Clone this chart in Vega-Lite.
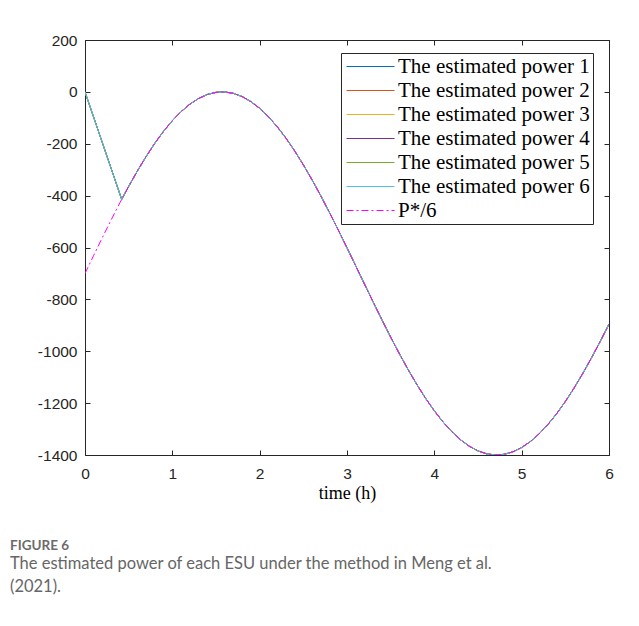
{
  "$schema": "https://vega.github.io/schema/vega-lite/v6.json",
  "width": 524,
  "height": 415,
  "autosize": {"type": "none"},
  "padding": {"left": 85, "top": 40, "right": 30, "bottom": 171},
  "background": "white",
  "title": {
    "text": "FIGURE 6",
    "subtitle": ["The estimated power of each ESU under the method in Meng et al.", "(2021)."],
    "orient": "bottom",
    "anchor": "start",
    "frame": "group",
    "dx": -75,
    "offset": 36,
    "font": "Lato",
    "fontSize": 13.5,
    "fontWeight": "bold",
    "color": "#6b6b6b",
    "subtitleFont": "Lato",
    "subtitleFontSize": 16.5,
    "subtitleColor": "#666666",
    "subtitleLineHeight": 23,
    "subtitlePadding": 4
  },
  "data": {
    "values": [
      {"t": 0, "e": 0, "r": -700},
      {"t": 0.1, "r": -630.1},
      {"t": 0.2, "r": -560.9},
      {"t": 0.3, "r": -493.1},
      {"t": 0.4, "r": -427.4},
      {"t": 0.42, "e": -414.5, "r": -414.5},
      {"t": 0.5, "e": -364.4, "r": -364.4},
      {"t": 0.6, "e": -304.8, "r": -304.8},
      {"t": 0.7, "e": -249.1, "r": -249.1},
      {"t": 0.8, "e": -197.8, "r": -197.8},
      {"t": 0.9, "e": -151.7, "r": -151.7},
      {"t": 1.0, "e": -111.0, "r": -111.0},
      {"t": 1.1, "e": -76.2, "r": -76.2},
      {"t": 1.2, "e": -47.6, "r": -47.6},
      {"t": 1.3, "e": -25.5, "r": -25.5},
      {"t": 1.4, "e": -10.2, "r": -10.2},
      {"t": 1.5, "e": -1.7, "r": -1.7},
      {"t": 1.6, "e": -0.3, "r": -0.3},
      {"t": 1.7, "e": -5.8, "r": -5.8},
      {"t": 1.8, "e": -18.3, "r": -18.3},
      {"t": 1.9, "e": -37.6, "r": -37.6},
      {"t": 2.0, "e": -63.5, "r": -63.5},
      {"t": 2.1, "e": -95.8, "r": -95.8},
      {"t": 2.2, "e": -134.0, "r": -134.0},
      {"t": 2.3, "e": -178.0, "r": -178.0},
      {"t": 2.4, "e": -227.2, "r": -227.2},
      {"t": 2.5, "e": -281.1, "r": -281.1},
      {"t": 2.6, "e": -339.1, "r": -339.1},
      {"t": 2.7, "e": -400.8, "r": -400.8},
      {"t": 2.8, "e": -465.5, "r": -465.5},
      {"t": 2.9, "e": -532.6, "r": -532.6},
      {"t": 3.0, "e": -601.2, "r": -601.2},
      {"t": 3.1, "e": -670.9, "r": -670.9},
      {"t": 3.2, "e": -740.9, "r": -740.9},
      {"t": 3.3, "e": -810.4, "r": -810.4},
      {"t": 3.4, "e": -878.8, "r": -878.8},
      {"t": 3.5, "e": -945.6, "r": -945.6},
      {"t": 3.6, "e": -1009.8, "r": -1009.8},
      {"t": 3.7, "e": -1070.9, "r": -1070.9},
      {"t": 3.8, "e": -1128.3, "r": -1128.3},
      {"t": 3.9, "e": -1181.5, "r": -1181.5},
      {"t": 4.0, "e": -1229.8, "r": -1229.8},
      {"t": 4.1, "e": -1272.8, "r": -1272.8},
      {"t": 4.2, "e": -1310.1, "r": -1310.1},
      {"t": 4.3, "e": -1341.3, "r": -1341.3},
      {"t": 4.4, "e": -1366.1, "r": -1366.1},
      {"t": 4.5, "e": -1384.3, "r": -1384.3},
      {"t": 4.6, "e": -1395.6, "r": -1395.6},
      {"t": 4.7, "e": -1400.0, "r": -1400.0},
      {"t": 4.8, "e": -1397.3, "r": -1397.3},
      {"t": 4.9, "e": -1387.8, "r": -1387.8},
      {"t": 5.0, "e": -1371.2, "r": -1371.2},
      {"t": 5.1, "e": -1348.1, "r": -1348.1},
      {"t": 5.2, "e": -1318.5, "r": -1318.5},
      {"t": 5.3, "e": -1282.6, "r": -1282.6},
      {"t": 5.4, "e": -1241.0, "r": -1241.0},
      {"t": 5.5, "e": -1193.9, "r": -1193.9},
      {"t": 5.6, "e": -1141.9, "r": -1141.9},
      {"t": 5.7, "e": -1085.5, "r": -1085.5},
      {"t": 5.8, "e": -1025.2, "r": -1025.2},
      {"t": 5.9, "e": -961.7, "r": -961.7},
      {"t": 6.0, "e": -895.6, "r": -895.6}
    ]
  },
  "resolve": {"axis": {"x": "independent", "y": "independent"}},
  "layer": [
    {
      "mark": {"type": "line", "strokeWidth": 1, "clip": true, "invalid": "filter"},
      "encoding": {
        "x": {"field": "t", "type": "quantitative", "scale": {"domain": [0, 6], "nice": false},
          "axis": {"orient": "bottom", "values": [0, 1, 2, 3, 4, 5, 6], "title": "time (h)", "titleFont": "Liberation Serif", "titleFontSize": 18, "titleFontWeight": "normal", "titleColor": "#000000", "titlePadding": 3, "labelPadding": 16}},
        "y": {"field": "e", "type": "quantitative", "scale": {"domain": [-1400, 200], "nice": false, "zero": false},
          "axis": {"orient": "left", "values": [-1400, -1200, -1000, -800, -600, -400, -200, 0, 200], "title": null, "labelExpr": "datum.value + ''"}},
        "color": {
          "datum": "The estimated power 1", "type": "nominal",
          "scale": {
            "domain": ["The estimated power 1", "The estimated power 2", "The estimated power 3", "The estimated power 4", "The estimated power 5", "The estimated power 6", "P*/6"],
            "range": ["#0072BD", "#D95319", "#EDB120", "#7E2F8E", "#77AC30", "#4DBEEE", "#FF00FF"]
          },
          "legend": {
            "title": null, "orient": "none", "legendX": 256, "legendY": 13,
            "encode": {"symbols": {"update": {"strokeDash": {"signal": "datum.value === 'P*/6' ? [7, 3, 2, 3] : [1, 0]"}}}}
          }
        }
      }
    },
    {
      "mark": {"type": "line", "strokeWidth": 1, "clip": true, "invalid": "filter"},
      "encoding": {
        "x": {"field": "t", "type": "quantitative", "axis": null},
        "y": {"field": "e", "type": "quantitative", "axis": null},
        "color": {"datum": "The estimated power 2", "type": "nominal"}
      }
    },
    {
      "mark": {"type": "line", "strokeWidth": 1, "clip": true, "invalid": "filter"},
      "encoding": {
        "x": {"field": "t", "type": "quantitative", "axis": null},
        "y": {"field": "e", "type": "quantitative", "axis": null},
        "color": {"datum": "The estimated power 3", "type": "nominal"}
      }
    },
    {
      "mark": {"type": "line", "strokeWidth": 1, "clip": true, "invalid": "filter"},
      "encoding": {
        "x": {"field": "t", "type": "quantitative", "axis": null},
        "y": {"field": "e", "type": "quantitative", "axis": null},
        "color": {"datum": "The estimated power 4", "type": "nominal"}
      }
    },
    {
      "mark": {"type": "line", "strokeWidth": 1, "clip": true, "invalid": "filter"},
      "encoding": {
        "x": {"field": "t", "type": "quantitative", "axis": null},
        "y": {"field": "e", "type": "quantitative", "axis": null},
        "color": {"datum": "The estimated power 5", "type": "nominal"}
      }
    },
    {
      "mark": {"type": "line", "strokeWidth": 1, "clip": true, "invalid": "filter"},
      "encoding": {
        "x": {"field": "t", "type": "quantitative", "axis": null},
        "y": {"field": "e", "type": "quantitative", "axis": null},
        "color": {"datum": "The estimated power 6", "type": "nominal"}
      }
    },
    {
      "mark": {"type": "line", "strokeWidth": 1, "clip": true, "strokeDash": [7, 3, 2, 3]},
      "encoding": {
        "x": {"field": "t", "type": "quantitative",
          "axis": {"orient": "top", "values": [0, 1, 2, 3, 4, 5, 6], "labels": false, "title": null}},
        "y": {"field": "r", "type": "quantitative",
          "axis": {"orient": "right", "values": [-1400, -1200, -1000, -800, -600, -400, -200, 0, 200], "labels": false, "title": null}},
        "color": {"datum": "P*/6", "type": "nominal"}
      }
    }
  ],
  "config": {
    "view": {"stroke": "#262626", "strokeWidth": 1},
    "axis": {
      "domainColor": "#262626",
      "domainWidth": 1,
      "tickColor": "#262626",
      "tickSize": -5,
      "tickWidth": 1,
      "grid": false,
      "labelFont": "Liberation Sans",
      "labelFontSize": 15.5,
      "labelColor": "#262626",
      "labelPadding": 13,
      "labelFlush": false,
      "labelOverlap": false
    },
    "legend": {
      "strokeColor": "#262626",
      "fillColor": "white",
      "padding": 3,
      "labelFont": "Liberation Serif",
      "labelFontSize": 21,
      "labelColor": "#000000",
      "labelLimit": 400,
      "symbolType": "M-4,0H4",
      "symbolSize": 144,
      "symbolStrokeWidth": 1.2,
      "symbolOffset": 16,
      "rowPadding": 2,
      "labelOffset": 17
    }
  }
}
